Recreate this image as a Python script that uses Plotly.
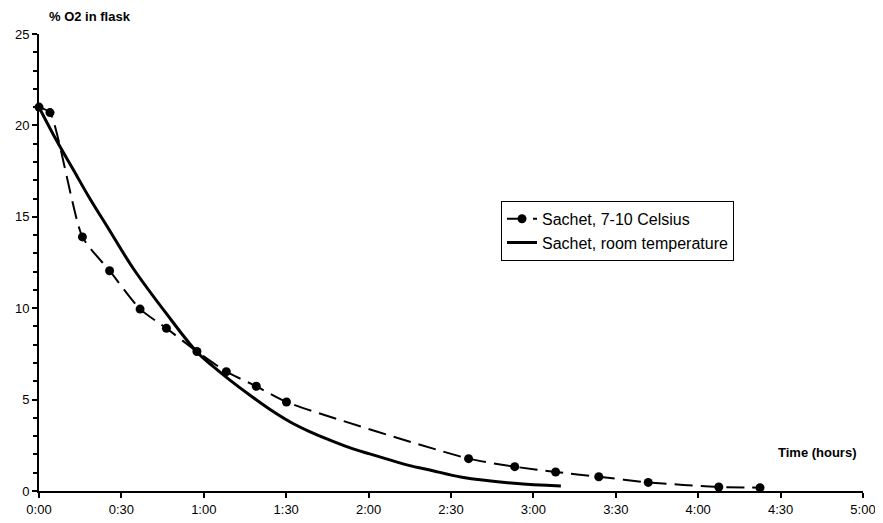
import plotly.graph_objects as go

# Sachet, 7-10 Celsius (time in minutes, % O2)
cold_t = [0, 4, 15.8, 25.7, 36.8, 46.4, 57.5, 68.2, 79.1, 90.1, 156.4, 173.2, 188.1, 203.8, 221.8, 247.5, 262.5]
cold_o2 = [21.0, 20.7, 13.9, 12.05, 9.95, 8.9, 7.63, 6.53, 5.73, 4.87, 1.77, 1.33, 1.04, 0.78, 0.47, 0.22, 0.18]

# Sachet, room temperature
room_t = [0, 6.3, 12.4, 18.5, 25.1, 34.2, 46.4, 57.4, 63.5, 69.4, 76.7, 84, 91.3, 98.5, 105.8, 113.1,
          120.4, 127.7, 135, 142.3, 154, 173, 190]
room_o2 = [21.0, 19.2, 17.6, 16.0, 14.4, 12.2, 9.7, 7.62, 6.8, 6.08, 5.25, 4.47, 3.79, 3.25, 2.79, 2.37,
           2.03, 1.70, 1.39, 1.15, 0.75, 0.42, 0.27]

x_tickvals = [0, 30, 60, 90, 120, 150, 180, 210, 240, 270, 300]
x_ticktext = ["0:00", "0:30", "1:00", "1:30", "2:00", "2:30", "3:00", "3:30", "4:00", "4:30", "5:00"]
y_tickvals = [0, 5, 10, 15, 20, 25]

FONT = "Arial, Liberation Sans, sans-serif"

fig = go.Figure()
fig.add_trace(go.Scatter(
    x=cold_t, y=cold_o2, name="Sachet, 7-10 Celsius",
    mode="lines+markers",
    line=dict(color="black", width=2, dash="18px,8px", shape="spline", smoothing=0.6),
    marker=dict(color="black", size=9, symbol="circle"),
    cliponaxis=False,
))
fig.add_trace(go.Scatter(
    x=room_t, y=room_o2, name="Sachet, room temperature",
    mode="lines",
    line=dict(color="black", width=3, shape="spline", smoothing=1.0),
    cliponaxis=False,
))

fig.update_layout(
    width=875, height=515,
    margin=dict(l=31, r=20, t=26, b=32),
    paper_bgcolor="white", plot_bgcolor="white",
    font=dict(family=FONT, size=13, color="black"),
    showlegend=True,
    legend=dict(
        x=(501 - 39) / 824, y=(491 - 201) / 456.7,
        xanchor="left", yanchor="top",
        bordercolor="black", borderwidth=1, bgcolor="white",
        font=dict(family=FONT, size=16, color="black"),
        tracegroupgap=0, itemwidth=30,
    ),
    xaxis=dict(
        range=[0, 300], tickvals=x_tickvals, ticktext=x_ticktext,
        showline=True, linecolor="black", linewidth=2,
        ticks="outside", ticklen=5, tickwidth=2, tickcolor="black",
        showgrid=False, zeroline=False, automargin=False,
        tickfont=dict(family=FONT, size=13, color="black"),
    ),
    yaxis=dict(
        range=[0, 25], tickvals=y_tickvals,
        showline=True, linecolor="black", linewidth=2,
        ticks="outside", ticklen=5, tickwidth=2, tickcolor="black",
        minor=dict(dtick=1, ticks="outside", ticklen=4, tickwidth=2, tickcolor="black", showgrid=False),
        showgrid=False, zeroline=False, automargin=False,
        tickfont=dict(family=FONT, size=13, color="black"),
    ),
    annotations=[
        dict(text="<b>% O2 in flask</b>", xref="paper", yref="paper",
             x=(47 - 39) / 824, y=(491 - 17) / 456.7, xanchor="left", yanchor="middle",
             showarrow=False, font=dict(family=FONT, size=13, color="black")),
        dict(text="<b>Time (hours)</b>", xref="paper", yref="paper",
             x=(859 - 39) / 824, y=(491 - 453) / 456.7, xanchor="right", yanchor="middle",
             showarrow=False, font=dict(family=FONT, size=13, color="black")),
    ],
)

fig.write_html("out.html")
